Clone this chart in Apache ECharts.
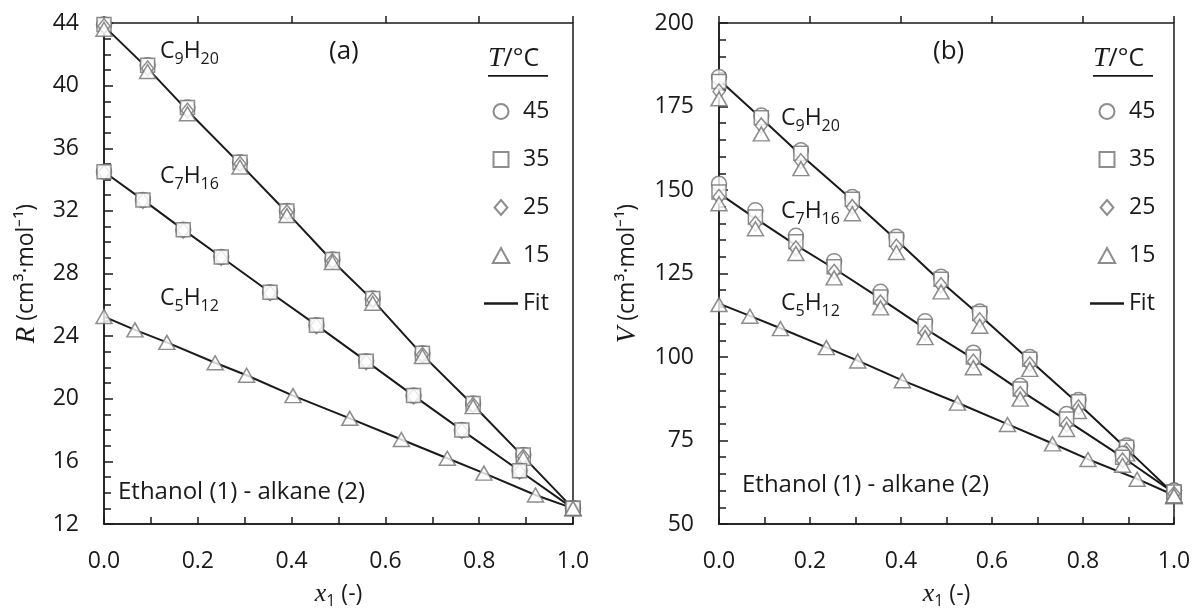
<!DOCTYPE html>
<html><head><meta charset="utf-8">
<script src="https://cdn.jsdelivr.net/npm/echarts@6/dist/echarts.min.js"></script>
<style>html,body{margin:0;padding:0;background:#fff}#c{width:1196px;height:614px}</style>
</head><body><div id="c"></div>
<script>
// ---------- Panel (a): R (cm3/mol) ----------
const R_C9_x   = [0, 0.093, 0.178, 0.29, 0.39, 0.487, 0.573, 0.679, 0.787, 0.894, 1.0];
const R_C9_45  = [43.9, 41.3, 38.6, 35.1, 32.0, 28.9, 26.4, 22.9, 19.7, 16.4, 13.0];
const R_C9_35  = [43.9, 41.3, 38.6, 35.1, 32.0, 28.9, 26.4, 22.9, 19.7, 16.4, 13.0];
const R_C9_25  = [43.8, 41.1, 38.4, 35.0, 31.9, 28.8, 26.3, 22.8, 19.6, 16.3, 13.0];
const R_C9_15  = [43.6, 40.9, 38.2, 34.8, 31.7, 28.7, 26.1, 22.7, 19.5, 16.2, 12.95];
const R_C9_fit = [43.8, 41.1, 38.4, 35.0, 31.9, 28.8, 26.3, 22.8, 19.6, 16.3, 13.0];

const R_C7_x   = [0, 0.083, 0.169, 0.25, 0.354, 0.453, 0.559, 0.66, 0.763, 0.886, 1.0];
const R_C7_45  = [34.5, 32.7, 30.8, 29.05, 26.8, 24.7, 22.4, 20.2, 18.0, 15.4, 13.0];
const R_C7_35  = [34.5, 32.7, 30.8, 29.05, 26.8, 24.7, 22.4, 20.2, 18.0, 15.4, 13.0];
const R_C7_25  = [34.45, 32.65, 30.75, 29.0, 26.75, 24.65, 22.35, 20.15, 17.95, 15.35, 13.0];
const R_C7_fit = [34.5, 32.7, 30.8, 29.05, 26.8, 24.7, 22.4, 20.2, 18.0, 15.4, 13.0];

const R_C5_x   = [0, 0.066, 0.134, 0.237, 0.304, 0.403, 0.524, 0.634, 0.732, 0.81, 0.92, 1.0];
const R_C5_15  = [25.25, 24.4, 23.6, 22.3, 21.5, 20.2, 18.75, 17.4, 16.2, 15.25, 13.85, 13.0];
const R_C5_fit = [25.25, 24.4, 23.6, 22.3, 21.5, 20.2, 18.75, 17.4, 16.2, 15.25, 13.85, 13.0];

// ---------- Panel (b): V (cm3/mol) ----------
const V_C9_x   = [0, 0.093, 0.18, 0.293, 0.39, 0.488, 0.573, 0.683, 0.79, 0.896, 1.0];
const V_C9_45  = [183.8, 172.3, 161.9, 147.9, 136.0, 124.0, 113.6, 100.0, 87.1, 73.5, 60.0];
const V_C9_35  = [182.5, 171.6, 161.0, 147.2, 135.2, 123.3, 113.0, 99.3, 86.6, 73.0, 59.6];
const V_C9_25  = [179.5, 169.3, 158.6, 144.9, 133.0, 121.5, 111.0, 97.8, 84.9, 72.0, 59.0];
const V_C9_15  = [177.3, 166.8, 156.4, 142.9, 131.3, 119.5, 109.2, 96.3, 83.7, 71.0, 58.2];
const V_C9_fit = [183.0, 171.5, 160.5, 147.0, 135.0, 122.5, 112.5, 99.0, 86.0, 72.5, 59.0];

const V_C7_x   = [0, 0.08, 0.169, 0.253, 0.355, 0.453, 0.559, 0.662, 0.764, 0.887, 1.0];
const V_C7_45  = [151.9, 143.9, 136.3, 128.7, 119.5, 110.7, 101.3, 91.4, 82.9, 71.0, 60.0];
const V_C7_35  = [149.4, 141.9, 134.5, 127.0, 118.0, 109.2, 100.0, 90.4, 81.4, 70.0, 59.6];
const V_C7_25  = [147.9, 139.9, 132.5, 125.5, 116.3, 107.2, 98.6, 88.9, 79.8, 69.0, 59.0];
const V_C7_15  = [145.9, 138.4, 131.0, 123.7, 114.7, 105.8, 96.8, 87.4, 78.3, 67.6, 58.2];
const V_C7_fit = [149.0, 141.5, 133.5, 126.5, 117.5, 108.5, 99.5, 90.0, 81.0, 70.0, 59.3];

const V_C5_x   = [0, 0.068, 0.135, 0.236, 0.305, 0.403, 0.524, 0.634, 0.733, 0.811, 0.919, 1.0];
const V_C5_15  = [115.7, 112.2, 108.5, 102.8, 98.8, 92.9, 86.2, 79.8, 74.0, 69.3, 63.4, 58.5];
const V_C5_fit = [116.0, 112.3, 108.6, 102.9, 98.9, 93.0, 86.3, 79.9, 74.1, 69.4, 63.5, 58.6];

// ---------- labels ----------
const xTicks = [0, 0.2, 0.4, 0.6, 0.8, 1.0];
const R_ticks = [12, 16, 20, 24, 28, 32, 36, 40, 44];
const V_ticks = [50, 75, 100, 125, 150, 175, 200];
const tempNames = ['45', '35', '25', '15'];
const fitName = 'Fit';
const panelTags = ['(a)', '(b)'];
const systemLabel = 'Ethanol (1) - alkane (2)';

const FONT = 'Open Sans';
const SERIF = 'Liberation Serif';
const INK = '#1a1a1a';
const MARK = '#707070';
const FS = 23;

const symbolOf = {'45': 'circle', '35': 'rect', '25': 'diamond', '15': 'triangle'};
const sizeOf = {'45': 15, '35': 14, '25': [12, 15], '15': [16, 14]};

const pair = (xs, ys) => xs.map((x, i) => [x, ys[i]]);

function pts(name, xs, ys, g) {
  return {
    type: 'scatter', name, xAxisIndex: g * 2, yAxisIndex: g * 2,
    data: pair(xs, ys), symbol: symbolOf[name], symbolSize: sizeOf[name],
    itemStyle: {color: '#fff', borderColor: MARK, borderWidth: 1.5},
    emphasis: {disabled: true}, z: 3, clip: false
  };
}
function fit(xs, ys, g) {
  return {
    type: 'line', name: fitName, xAxisIndex: g * 2, yAxisIndex: g * 2,
    data: pair(xs, ys), showSymbol: false, symbol: 'none',
    lineStyle: {color: INK, width: 2}, itemStyle: {color: INK},
    emphasis: {disabled: true}, z: 2
  };
}

const grids = [
  {left: 104, top: 23, width: 469, height: 505},
  {left: 719, top: 23, width: 455, height: 505}
];

const tickLine = {color: INK, width: 1.5};
function xAxes(g) {
  return [
    {type: 'value', gridIndex: g, min: 0, max: 1, interval: 0.2,
     axisLine: {show: true, lineStyle: tickLine},
     axisTick: {show: true, inside: true, length: 7, lineStyle: tickLine},
     minorTick: {show: true, splitNumber: 2, length: 7, lineStyle: tickLine},
     splitLine: {show: false},
     axisLabel: {fontSize: FS, fontFamily: FONT, color: INK, margin: 26,
                 formatter: v => (xTicks.some(t => Math.abs(t - v) < 1e-9) ? v.toFixed(1) : '')},
     name: '{i|x}{s|1}{n| (-)}', nameLocation: 'middle', nameGap: 55,
     nameTextStyle: {rich: {
       i: {fontFamily: SERIF, fontStyle: 'italic', fontSize: 26, color: INK, lineHeight: 30, verticalAlign: 'middle'},
       s: {fontFamily: FONT, fontSize: 16, color: INK, lineHeight: 16, verticalAlign: 'bottom'},
       n: {fontFamily: FONT, fontSize: FS, color: INK, lineHeight: 30, verticalAlign: 'middle'}
     }}},
    {type: 'value', gridIndex: g, min: 0, max: 1, interval: 0.2,
     axisLine: {show: false}, axisTick: {show: true, inside: false, length: 7, lineStyle: tickLine},
     splitLine: {show: false}, axisLabel: {show: false}}
  ];
}
function yAxes(g, min, max, interval, minorSplit, letter, gap) {
  return [
    {type: 'value', gridIndex: g, min, max, interval,
     axisLine: {show: true, lineStyle: tickLine},
     axisTick: {show: true, inside: true, length: 8, lineStyle: tickLine},
     minorTick: {show: true, splitNumber: minorSplit, length: 7, lineStyle: tickLine},
     splitLine: {show: false},
     axisLabel: {fontSize: FS, fontFamily: FONT, color: INK, margin: 25},
     name: '{i|' + letter + '}{n| (cm³·mol⁻¹)}', nameLocation: 'middle', nameGap: gap,
     nameTextStyle: {rich: {
       i: {fontFamily: SERIF, fontStyle: 'italic', fontSize: 27, color: INK},
       n: {fontFamily: FONT, fontSize: FS, color: INK}
     }}},
    {type: 'value', gridIndex: g, min, max, interval,
     axisLine: {show: false}, axisTick: {show: true, inside: false, length: 9, lineStyle: tickLine},
     splitLine: {show: false}, axisLabel: {show: false}}
  ];
}

const legendData = [
  {name: '45', icon: 'circle'},
  {name: '35', icon: 'path://M0,0H10V10H0Z'},
  {name: '25', icon: 'path://M6,0L12,7L6,14L0,7Z'},
  {name: '15', icon: 'path://M5.5,0L11,10L0,10Z'},
  {name: fitName, icon: 'path://M0,0H34V2.4H0Z'}
];
function legend(left) {
  return {
    data: legendData, orient: 'vertical', left, top: 95,
    itemWidth: 34, itemHeight: 15, itemGap: 25, symbolKeepAspect: true,
    selectedMode: false,
    textStyle: {fontSize: FS, fontFamily: FONT, color: INK}
  };
}

const subRich = {
  a: {fontFamily: FONT, fontSize: 23, fill: INK, lineHeight: 32, verticalAlign: 'middle'},
  s: {fontFamily: FONT, fontSize: 16, fill: INK, lineHeight: 16, verticalAlign: 'bottom'}
};
function formula(c, h, left, top) {
  return {type: 'text', left, top, z: 10,
    style: {text: '{a|C}{s|' + c + '}{a|H}{s|' + h + '}', rich: subRich}};
}
function plain(text, left, top, size) {
  return {type: 'text', left, top, z: 10,
    style: {text, fontFamily: FONT, fontSize: size, fill: INK}};
}
function header(left) {
  return [
    {type: 'text', left, top: 45, z: 10, style: {
      text: '{t|T}{n|/°C}',
      rich: {t: {fontFamily: SERIF, fontStyle: 'italic', fontSize: 28, fill: INK},
             n: {fontFamily: FONT, fontSize: 25, fill: INK}}}},
    {type: 'rect', left, top: 75, z: 10, shape: {width: 60, height: 1.8}, style: {fill: INK}}
  ];
}

const option = {
  backgroundColor: '#fff',
  animation: false,
  grid: grids.map(g => Object.assign({show: true, borderColor: INK, borderWidth: 1.5, backgroundColor: 'transparent'}, g)),
  xAxis: [...xAxes(0), ...xAxes(1)],
  yAxis: [...yAxes(0, 12, 44, 4, 4, 'R', 64), ...yAxes(1, 50, 200, 25, 5, 'V', 78)],
  legend: [legend(479), legend(1085)],
  series: [
    fit(R_C9_x, R_C9_fit, 0), fit(R_C7_x, R_C7_fit, 0), fit(R_C5_x, R_C5_fit, 0),
    pts('45', R_C9_x, R_C9_45, 0), pts('35', R_C9_x, R_C9_35, 0), pts('25', R_C9_x, R_C9_25, 0), pts('15', R_C9_x, R_C9_15, 0),
    pts('45', R_C7_x, R_C7_45, 0), pts('25', R_C7_x, R_C7_25, 0), pts('35', R_C7_x, R_C7_35, 0),
    pts('15', R_C5_x, R_C5_15, 0),
    fit(V_C9_x, V_C9_fit, 1), fit(V_C7_x, V_C7_fit, 1), fit(V_C5_x, V_C5_fit, 1),
    pts('45', V_C9_x, V_C9_45, 1), pts('35', V_C9_x, V_C9_35, 1), pts('25', V_C9_x, V_C9_25, 1), pts('15', V_C9_x, V_C9_15, 1),
    pts('45', V_C7_x, V_C7_45, 1), pts('35', V_C7_x, V_C7_35, 1), pts('25', V_C7_x, V_C7_25, 1), pts('15', V_C7_x, V_C7_15, 1),
    pts('15', V_C5_x, V_C5_15, 1)
  ],
  graphic: [
    formula(9, 20, 160, 40), formula(7, 16, 160, 165), formula(5, 12, 160, 287),
    plain(panelTags[0], 329, 39, 26),
    plain(systemLabel, 118, 480, 24),
    ...header(488),
    formula(9, 20, 781, 107), formula(7, 16, 781, 200), formula(5, 12, 781, 292),
    plain(panelTags[1], 933, 39, 26),
    plain(systemLabel, 742, 473, 24),
    ...header(1093)
  ]
};

const chart = echarts.init(document.getElementById('c'), null, {renderer: 'canvas'});
chart.setOption(option);
</script>
</body></html>
